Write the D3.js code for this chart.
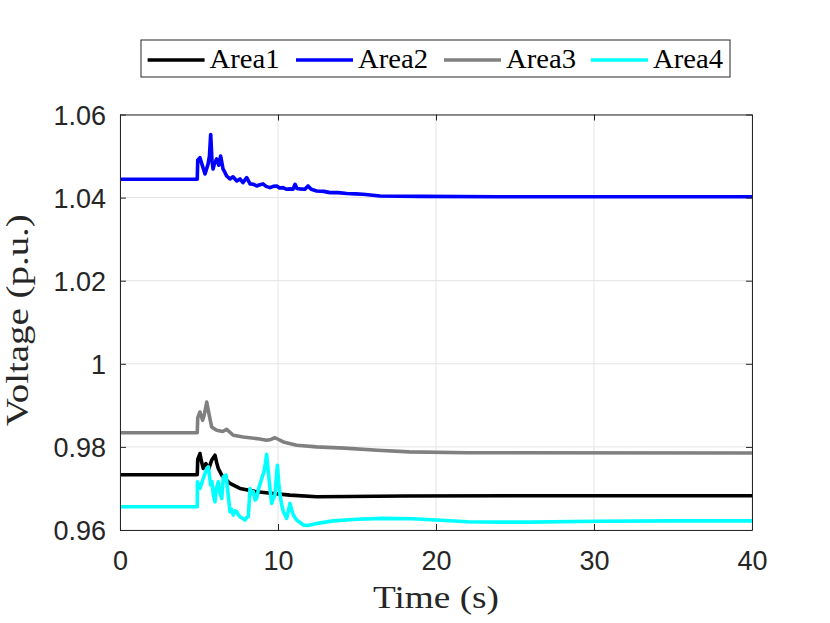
<!DOCTYPE html>
<html><head><meta charset="utf-8">
<script src="https://cdn.jsdelivr.net/npm/d3@7"></script>
<style>html,body{margin:0;padding:0;background:#fff;}svg{display:block;}</style>
</head><body>
<script>
const seriesNames = ["Area1","Area2","Area3","Area4"];
const seriesColors = ["#000000","#0000ff","#808080","#00ffff"];
const xTicks = [0,10,20,30,40];
const yTicks = [0.96,0.98,1.00,1.02,1.04,1.06];
const yTickLabels = ["0.96","0.98","1","1.02","1.04","1.06"];

const area1 = [[0,0.9733],[4.89,0.9733],[4.92,0.9770],[5.06,0.9784],[5.15,0.9766],[5.27,0.9748],[5.44,0.9760],[5.59,0.9744],[5.8,0.9768],[6.01,0.9780],[6.12,0.9762],[6.22,0.9748],[6.44,0.9732],[6.96,0.9712],[7.59,0.9700],[8.65,0.9692],[9.7,0.9688],[10.76,0.9684],[12.45,0.9680],[14.5,0.96805],[18,0.9682],[25,0.96825],[40,0.96825]];
const area2 = [[0,1.0444],[4.89,1.0444],[4.92,1.0490],[5.06,1.0496],[5.19,1.0480],[5.38,1.0457],[5.57,1.0480],[5.66,1.0500],[5.74,1.0552],[5.82,1.0490],[5.89,1.0469],[6.0,1.0485],[6.12,1.0493],[6.25,1.0478],[6.37,1.0500],[6.52,1.0469],[6.65,1.0460],[6.75,1.0452],[6.96,1.0445],[7.15,1.0450],[7.39,1.0440],[7.59,1.0445],[7.78,1.0436],[8.02,1.0448],[8.23,1.0433],[8.45,1.0432],[8.65,1.0428],[8.85,1.0431],[9.05,1.0433],[9.25,1.0427],[9.49,1.0424],[9.7,1.0427],[9.92,1.0428],[10.1,1.0423],[10.32,1.0424],[10.55,1.0420],[10.76,1.0421],[10.95,1.0420],[11.08,1.0432],[11.2,1.0422],[11.39,1.0421],[11.7,1.0420],[11.9,1.0428],[12.1,1.0420],[12.45,1.0416],[12.9,1.0415],[13.29,1.0412],[13.8,1.0412],[14.35,1.0410],[14.9,1.0409],[15.38,1.0408],[16.46,1.0404],[19,1.0403],[24,1.0402],[40,1.0402]];
const area3 = [[0,0.9834],[4.89,0.9834],[4.92,0.9870],[5.06,0.9884],[5.23,0.9864],[5.35,0.9880],[5.49,0.9908],[5.65,0.9876],[5.8,0.9848],[6.12,0.9840],[6.5,0.9837],[6.75,0.9842],[7.17,0.9828],[7.8,0.9824],[8.65,0.9820],[9.28,0.9816],[9.55,0.9818],[9.81,0.9822],[10.34,0.9812],[11.18,0.9804],[12.45,0.9800],[14.2,0.9797],[16.3,0.9792],[18.3,0.9788],[22,0.9786],[40,0.97855]];
const area4 = [[0,0.9656],[4.89,0.9656],[4.9,0.9716],[5.06,0.9700],[5.27,0.9724],[5.49,0.9748],[5.59,0.9752],[5.74,0.9708],[5.82,0.9716],[5.91,0.9684],[6.01,0.9668],[6.1,0.9700],[6.22,0.9716],[6.32,0.9690],[6.44,0.9676],[6.54,0.9728],[6.71,0.9732],[6.85,0.9684],[6.96,0.9644],[7.06,0.9650],[7.17,0.9636],[7.28,0.9646],[7.39,0.9644],[7.5,0.9636],[7.59,0.9632],[7.75,0.9628],[7.91,0.9624],[8.02,0.9630],[8.12,0.9632],[8.23,0.9700],[8.34,0.9688],[8.44,0.9692],[8.55,0.9672],[8.65,0.9676],[8.75,0.9696],[8.86,0.9710],[8.97,0.9724],[9.11,0.9740],[9.2,0.9760],[9.28,0.9782],[9.36,0.9750],[9.43,0.9724],[9.52,0.9690],[9.6,0.9664],[9.7,0.9676],[9.81,0.9684],[9.96,0.9756],[10.05,0.9712],[10.13,0.9684],[10.24,0.9660],[10.34,0.9644],[10.45,0.9636],[10.55,0.9628],[10.76,0.9664],[10.87,0.9648],[10.97,0.9636],[11.18,0.9624],[11.4,0.9618],[11.6,0.9612],[11.9,0.9611],[12.5,0.9616],[13.5,0.9622],[15,0.9626],[16.7,0.9628],[18.5,0.9627],[20,0.9624],[22,0.9620],[24,0.9619],[26,0.9619],[30,0.9621],[35,0.9622],[40,0.9622]];
const allSeries = [area1, area2, area3, area4];

const W = 830, H = 623;
const m = {left:120, right:752, top:114.5, bottom:530};
const svg = d3.select("body").append("svg").attr("width",W).attr("height",H);

const x = d3.scaleLinear().domain([0,40]).range([m.left,m.right]);
const y = d3.scaleLinear().domain([0.96,1.06]).range([m.bottom,m.top]);
const axisCol = "#262626";
const tickFont = "'Liberation Sans', Arial, sans-serif";
const serif = "'Liberation Serif', 'Times New Roman', serif";

// grid
const g = svg.append("g");
g.selectAll(".gx").data(xTicks).join("line")
  .attr("x1",d=>x(d)).attr("x2",d=>x(d)).attr("y1",m.top).attr("y2",m.bottom)
  .attr("stroke","#e3e3e3").attr("stroke-width",1);
g.selectAll(".gy").data(yTicks).join("line")
  .attr("y1",d=>y(d)).attr("y2",d=>y(d)).attr("x1",m.left).attr("x2",m.right)
  .attr("stroke","#e3e3e3").attr("stroke-width",1);

// lines
const line = d3.line().x(d=>x(d[0])).y(d=>y(d[1]));
allSeries.forEach((s,i)=>{
  svg.append("path").datum(s).attr("d",line).attr("fill","none")
    .attr("stroke",seriesColors[i]).attr("stroke-width",3.6).attr("stroke-linejoin","round");
});

// axes (inward ticks, box)
const tl = 6;
const axB = svg.append("g").attr("transform",`translate(0,${m.bottom})`)
  .call(d3.axisBottom(x).tickValues(xTicks).tickSizeInner(-tl).tickSizeOuter(0).tickPadding(14).tickFormat(d3.format("d")));
const axT = svg.append("g").attr("transform",`translate(0,${m.top})`)
  .call(d3.axisTop(x).tickValues(xTicks).tickSizeInner(-tl).tickSizeOuter(0).tickFormat(""));
const axL = svg.append("g").attr("transform",`translate(${m.left},0)`)
  .call(d3.axisLeft(y).tickValues(yTicks).tickSizeInner(-tl).tickSizeOuter(0).tickPadding(14).tickFormat((d,i)=>yTickLabels[i]));
const axR = svg.append("g").attr("transform",`translate(${m.right},0)`)
  .call(d3.axisRight(y).tickValues(yTicks).tickSizeInner(-tl).tickSizeOuter(0).tickFormat(""));
[axB,axT,axL,axR].forEach(a=>{
  a.selectAll("path,line").attr("stroke",axisCol).attr("stroke-width",1);
  a.selectAll("text").attr("fill",axisCol).style("font-family",tickFont).style("font-size","27px");
});
axB.selectAll("text").attr("dy","0.95em");
axL.selectAll("text").attr("dy","0.36em");

// axis labels
svg.append("text").attr("x",(m.left+m.right)/2).attr("y",608).attr("text-anchor","middle")
  .style("font-family",serif).style("font-size","32px").attr("fill",axisCol)
  .attr("textLength",126).attr("lengthAdjust","spacingAndGlyphs").text("Time (s)");
svg.append("text").attr("transform",`translate(28,${(m.top+m.bottom)/2 - 2}) rotate(-90)`).attr("text-anchor","middle")
  .style("font-family",serif).style("font-size","32px").attr("fill",axisCol)
  .attr("textLength",212).attr("lengthAdjust","spacingAndGlyphs").text("Voltage (p.u.)");

// legend
const lg = svg.append("g");
lg.append("rect").attr("x",141).attr("y",40).attr("width",589).attr("height",37)
  .attr("fill","#fff").attr("stroke",axisCol).attr("stroke-width",1);
const lineStarts = [147.6,296,444,591];
seriesNames.forEach((n,i)=>{
  lg.append("line").attr("x1",lineStarts[i]).attr("x2",lineStarts[i]+57).attr("y1",60).attr("y2",60)
    .attr("stroke",seriesColors[i]).attr("stroke-width",3.6);
  lg.append("text").attr("x",lineStarts[i]+62).attr("y",68).style("font-family",serif).style("font-size","27px")
    .attr("fill","#000").attr("textLength",70).attr("lengthAdjust","spacingAndGlyphs").text(n);
});
</script>
</body></html>
